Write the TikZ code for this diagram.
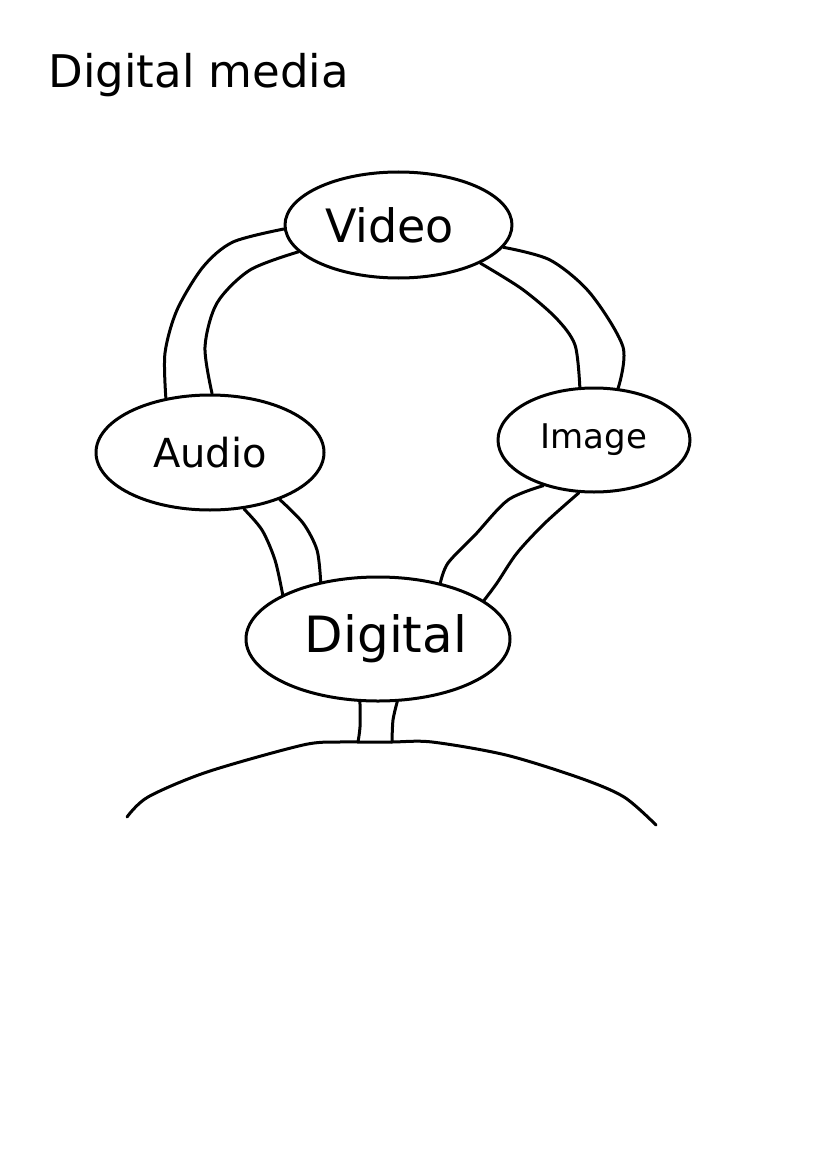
\documentclass[tikz,border=0pt]{standalone}
\usepackage{fontspec}
\setmainfont{DejaVu Sans}
\usetikzlibrary{shapes.geometric}
\begin{document}
\begin{tikzpicture}[x=1pt,y=-1pt,
  stroke/.style={line width=3pt, line join=round, line cap=round},
  blob/.style={stroke, draw, ellipse, inner sep=0pt},
  tube/.style={stroke}]
\useasboundingbox (0,0) rectangle (827,1169);
\node[anchor=base west, font=\fontsize{45}{50}\selectfont] (title) at (45,88) {Digital media};
\node[blob, minimum width=227pt, minimum height=106pt, font=\fontsize{46}{50}\selectfont] (video) at (398.5,225) {\hspace*{-18pt}Video};
\node[blob, minimum width=228pt, minimum height=115pt, font=\fontsize{40}{44}\selectfont] (audio) at (210,452.5) {Audio};
\node[blob, minimum width=192pt, minimum height=104pt, font=\fontsize{34}{38}\selectfont] (image) at (594,440) {\raisebox{-6pt}{Image}};
\node[blob, minimum width=264pt, minimum height=124pt, font=\fontsize{50}{54}\selectfont] (digital) at (378,639) {\hspace*{16pt}\raisebox{-6pt}{Digital}};
% ground arc
\coordinate (g1) at (358,742);
\coordinate (g2) at (392,742);
\draw[stroke] plot[smooth] coordinates {(127,817) (148,797) (207,772) (303,745) (340,742) (g1) (g2) (432,742) (506,755) (580,778) (624,797) (656,825)};
% video - audio
\draw[tube] plot[smooth] coordinates {(video.182) (233,242) (203,267) (177,310) (165,353) (audio.129)};
\draw[tube] plot[smooth] coordinates {(video.195) (250,270) (217,303) (205,347) (audio.88)};
% video - image
\draw[tube] plot[smooth] coordinates {(video.348) (550,260) (590,293) (623,347) (image.65)};
\draw[tube] plot[smooth] coordinates {(video.335) (522,289) (556,318) (575,345) (image.105)};
% audio - digital
\draw[tube] plot[smooth] coordinates {(audio.301) (262,530) (275,560) (digital.155)};
\draw[tube] plot[smooth] coordinates {(audio.326) (303,523) (317,550) (digital.135)};
% image - digital
\draw[tube] plot[smooth] coordinates {(image.222) (508,500) (475,535) (448,563) (digital.42)};
\draw[tube] plot[smooth] coordinates {(image.254) (545,523) (517,553) (497,583) (digital.20)};
% digital - ground
\draw[tube] plot[smooth] coordinates {(digital.254) (360,727) (g1)};
\draw[tube] plot[smooth] coordinates {(digital.287) (393,720) (g2)};
\end{tikzpicture}
\end{document}
